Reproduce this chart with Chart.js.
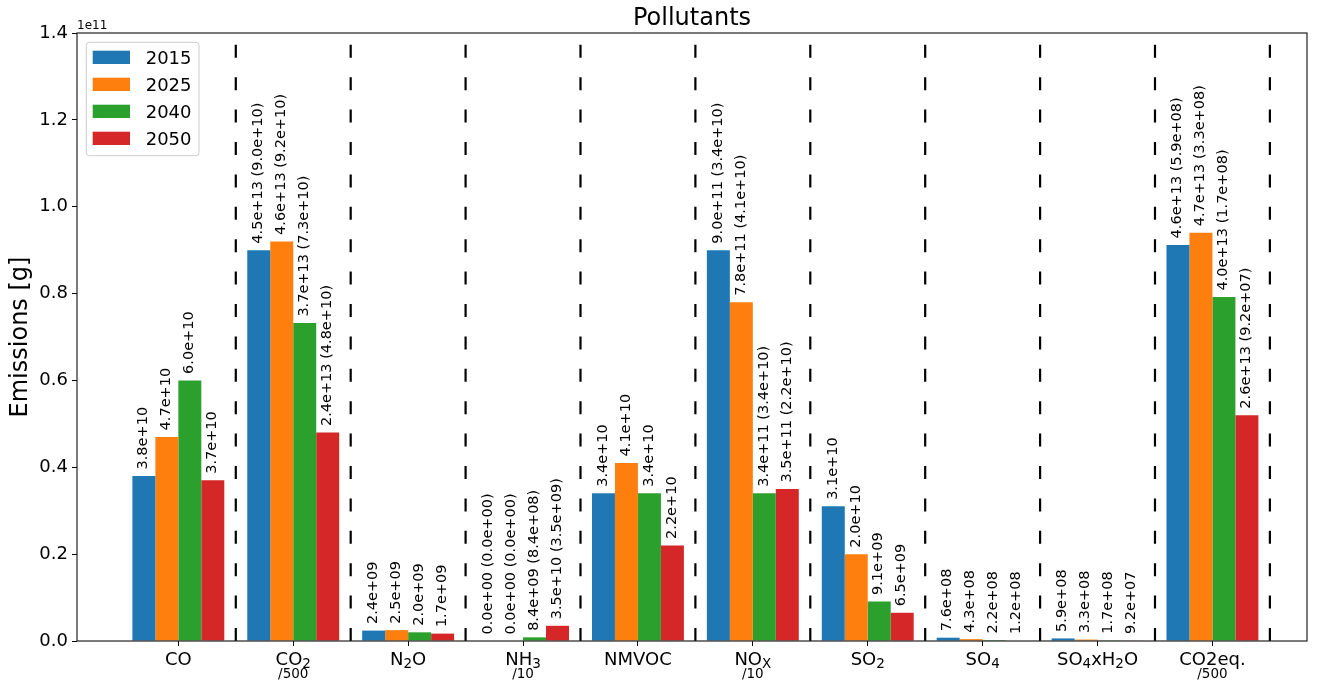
<!DOCTYPE html>
<html>
<head>
<meta charset="utf-8">
<script src="https://cdn.jsdelivr.net/npm/chart.js@4.4.0/dist/chart.umd.min.js"></script>
<style>
  html, body { margin: 0; padding: 0; background: #ffffff; }
  #wrap { width: 1317px; height: 686px; }
</style>
</head>
<body>
<div id="wrap"><canvas id="chart" width="1317" height="686"></canvas></div>
<script>
// Pollutant groups; "_d" marks a one-character subscript in the axis label.
const categories = ['CO', 'CO_2', 'N_2O', 'NH_3', 'NMVOC', 'NO_X', 'SO_2', 'SO_4', 'SO_4xH_2O', 'CO2eq.'];
// Scaling applied to each group so the bars share one axis, and the note printed under the label.
const divisors = [1, 500, 1, 10, 1, 10, 1, 1, 1, 500];
const scaleNotes = ['', '/500', '', '/10', '', '/10', '', '', '', '/500'];

const years = ['2015', '2025', '2040', '2050'];
const colors = ['#1f77b4', '#ff7f0e', '#2ca02c', '#d62728'];

// Total emissions in grams (before scaling).
const emissions2015 = [3.8e10, 4.5e13, 2.4e9, 0.0, 3.4e10, 9.0e11, 3.1e10, 7.6e8, 5.9e8, 4.56e13];
const emissions2025 = [4.7e10, 4.6e13, 2.5e9, 0.0, 4.1e10, 7.8e11, 2.0e10, 4.3e8, 3.3e8, 4.7e13];
const emissions2040 = [6.0e10, 3.66e13, 2.0e9, 8.4e9, 3.4e10, 3.4e11, 9.1e9, 2.2e8, 1.7e8, 3.96e13];
const emissions2050 = [3.7e10, 2.4e13, 1.7e9, 3.5e10, 2.2e10, 3.5e11, 6.5e9, 1.2e8, 9.2e7, 2.6e13];

// Secondary figure printed in brackets next to some totals (null = none).
const bracket2015 = [null, 9.0e10, null, 0.0, null, 3.4e10, null, null, null, 5.9e8];
const bracket2025 = [null, 9.2e10, null, 0.0, null, 4.1e10, null, null, null, 3.3e8];
const bracket2040 = [null, 7.3e10, null, 8.4e8, null, 3.4e10, null, null, null, 1.7e8];
const bracket2050 = [null, 4.8e10, null, 3.5e9, null, 2.2e10, null, null, null, 9.2e7];

// Y axis: values in units of 1e11 g.
const yMax = 1.4e11;
const yStep = 0.2e11;
const yExponent = 11;

const emissionSeries = [emissions2015, emissions2025, emissions2040, emissions2050];
const bracketSeries = [bracket2015, bracket2025, bracket2040, bracket2050];

const FONT = "'DejaVu Sans', 'Liberation Sans', sans-serif";
Chart.defaults.font.family = FONT;
Chart.defaults.color = '#000000';

function fmt(v) {
  const parts = v.toExponential(1).split('e');
  const n = parseInt(parts[1], 10);
  return parts[0] + 'e' + (n < 0 ? '-' : '+') + String(Math.abs(n)).padStart(2, '0');
}

function parseLabel(label) {
  const segs = [];
  for (let i = 0; i < label.length; i++) {
    if (label[i] === '_' && i + 1 < label.length) {
      segs.push({ t: label[i + 1], sub: true });
      i++;
    } else {
      const last = segs[segs.length - 1];
      if (last && !last.sub) last.t += label[i];
      else segs.push({ t: label[i], sub: false });
    }
  }
  return segs;
}

const datasets = years.map((year, d) => ({
  label: year,
  data: emissionSeries[d].map((v, i) => ({ x: i, y: v / divisors[i] })),
  backgroundColor: colors[d],
  borderWidth: 0,
  categoryPercentage: 0.8,
  barPercentage: 1.0
}));

// Dashed separators between pollutant groups.
const separatorPlugin = {
  id: 'separators',
  beforeDatasetsDraw(chart) {
    const { ctx, chartArea } = chart;
    const xs = chart.scales.x;
    ctx.save();
    ctx.beginPath();
    ctx.rect(chartArea.left, chartArea.top, chartArea.width, chartArea.height);
    ctx.clip();
    ctx.strokeStyle = '#000000';
    ctx.lineWidth = 2.2;
    ctx.setLineDash([13, 19.4]);
    categories.forEach((c, i) => {
      const x = xs.getPixelForValue(i + 0.5);
      ctx.beginPath();
      ctx.moveTo(x, chartArea.bottom);
      ctx.lineTo(x, chartArea.top);
      ctx.stroke();
    });
    ctx.restore();
  }
};

// Rotated value labels above each bar.
const valueLabelPlugin = {
  id: 'valueLabels',
  afterDatasetsDraw(chart) {
    const { ctx } = chart;
    ctx.save();
    ctx.fillStyle = '#000000';
    ctx.font = '14.5px ' + FONT;
    ctx.textAlign = 'left';
    ctx.textBaseline = 'middle';
    chart.data.datasets.forEach((ds, d) => {
      const meta = chart.getDatasetMeta(d);
      meta.data.forEach((bar, i) => {
        const total = emissionSeries[d][i];
        const br = bracketSeries[d][i];
        const text = fmt(total) + (br === null ? '' : ' (' + fmt(br) + ')');
        ctx.save();
        ctx.translate(bar.x - 0.5, bar.y - 6.5);
        ctx.rotate(-Math.PI / 2);
        ctx.fillText(text, 0, 0);
        ctx.restore();
      });
    });
    ctx.restore();
  }
};

// Frame, category labels with subscripts, exponent marker and legend box.
const decorPlugin = {
  id: 'decor',
  afterDraw(chart) {
    const { ctx, chartArea } = chart;
    const xs = chart.scales.x;
    ctx.save();

    // frame
    ctx.strokeStyle = '#222222';
    ctx.lineWidth = 1.2;
    ctx.strokeRect(chartArea.left, chartArea.top, chartArea.width, chartArea.height);

    // category labels
    ctx.fillStyle = '#000000';
    ctx.textBaseline = 'alphabetic';
    ctx.textAlign = 'left';
    const mainSize = 18, subSize = 13.5, subShift = 3.5;
    categories.forEach((label, i) => {
      const cx = xs.getPixelForValue(i);
      const segs = parseLabel(label);
      let w = 0;
      segs.forEach(s => {
        ctx.font = (s.sub ? subSize : mainSize) + 'px ' + FONT;
        s.w = ctx.measureText(s.t).width;
        w += s.w;
      });
      let x = cx - w / 2;
      const base = chartArea.bottom + 23.5;
      segs.forEach(s => {
        ctx.font = (s.sub ? subSize : mainSize) + 'px ' + FONT;
        ctx.fillText(s.t, x, s.sub ? base + subShift : base);
        x += s.w;
      });
      if (scaleNotes[i]) {
        ctx.font = '13.5px ' + FONT;
        ctx.textAlign = 'center';
        ctx.fillText(scaleNotes[i], cx, chartArea.bottom + 36.8);
        ctx.textAlign = 'left';
      }
    });

    // exponent marker of the y axis
    ctx.font = '12px ' + FONT;
    ctx.textAlign = 'left';
    ctx.fillText('1e' + yExponent, chartArea.left, chartArea.top - 4);

    // legend
    const lx = chartArea.left + 9.3, ly = chartArea.top + 9.3;
    const lw = 112.7, lh = 113.4, r = 3;
    ctx.beginPath();
    ctx.moveTo(lx + r, ly);
    ctx.lineTo(lx + lw - r, ly);
    ctx.arcTo(lx + lw, ly, lx + lw, ly + r, r);
    ctx.lineTo(lx + lw, ly + lh - r);
    ctx.arcTo(lx + lw, ly + lh, lx + lw - r, ly + lh, r);
    ctx.lineTo(lx + r, ly + lh);
    ctx.arcTo(lx, ly + lh, lx, ly + lh - r, r);
    ctx.lineTo(lx, ly + r);
    ctx.arcTo(lx, ly, lx + r, ly, r);
    ctx.closePath();
    ctx.fillStyle = 'rgba(255,255,255,0.8)';
    ctx.fill();
    ctx.strokeStyle = '#cccccc';
    ctx.lineWidth = 1;
    ctx.stroke();
    ctx.font = '18px ' + FONT;
    chart.data.datasets.forEach((ds, d) => {
      const boxTop = ly + 8.4 + d * 27;
      ctx.fillStyle = ds.backgroundColor;
      ctx.fillRect(lx + 6.4, boxTop, 37.3, 13.3);
      ctx.fillStyle = '#000000';
      ctx.fillText(ds.label, lx + 59.4, boxTop + 13.3);
    });

    ctx.restore();
  }
};

new Chart(document.getElementById('chart'), {
  type: 'bar',
  data: { datasets },
  options: {
    responsive: false,
    animation: false,
    devicePixelRatio: 1,
    layout: { padding: { left: 0, right: 10, top: 0, bottom: 0 } },
    plugins: {
      legend: { display: false },
      tooltip: { enabled: false },
      title: {
        display: true,
        text: 'Pollutants',
        fullSize: false,
        color: '#000000',
        font: { size: 24, weight: 'normal', lineHeight: 1.2 },
        padding: { top: 4.2, bottom: 0 }
      }
    },
    scales: {
      x: {
        type: 'linear',
        offset: false,
        min: -0.882,
        max: 9.823,
        afterBuildTicks(scale) {
          scale.ticks = categories.map((c, i) => ({ value: i }));
        },
        afterFit(scale) { scale.height = 45; },
        ticks: { autoSkip: false, callback: () => '' },
        grid: { offset: false, drawOnChartArea: false, drawTicks: true, tickLength: 5, color: '#000000', lineWidth: 1 },
        border: { display: false }
      },
      y: {
        min: 0,
        max: yMax,
        afterFit(scale) { scale.width = 77; },
        ticks: {
          stepSize: yStep,
          padding: 4,
          font: { size: 18 },
          color: '#000000',
          callback: (v) => (v / Math.pow(10, yExponent)).toFixed(1)
        },
        grid: { drawOnChartArea: false, drawTicks: true, tickLength: 5, color: '#000000', lineWidth: 1 },
        border: { display: false },
        title: {
          display: true,
          text: 'Emissions [g]',
          color: '#000000',
          font: { size: 24, weight: 'normal', lineHeight: 1.2 },
          padding: { top: 6.5, bottom: 0 }
        }
      }
    }
  },
  plugins: [separatorPlugin, valueLabelPlugin, decorPlugin]
});
</script>
</body>
</html>
